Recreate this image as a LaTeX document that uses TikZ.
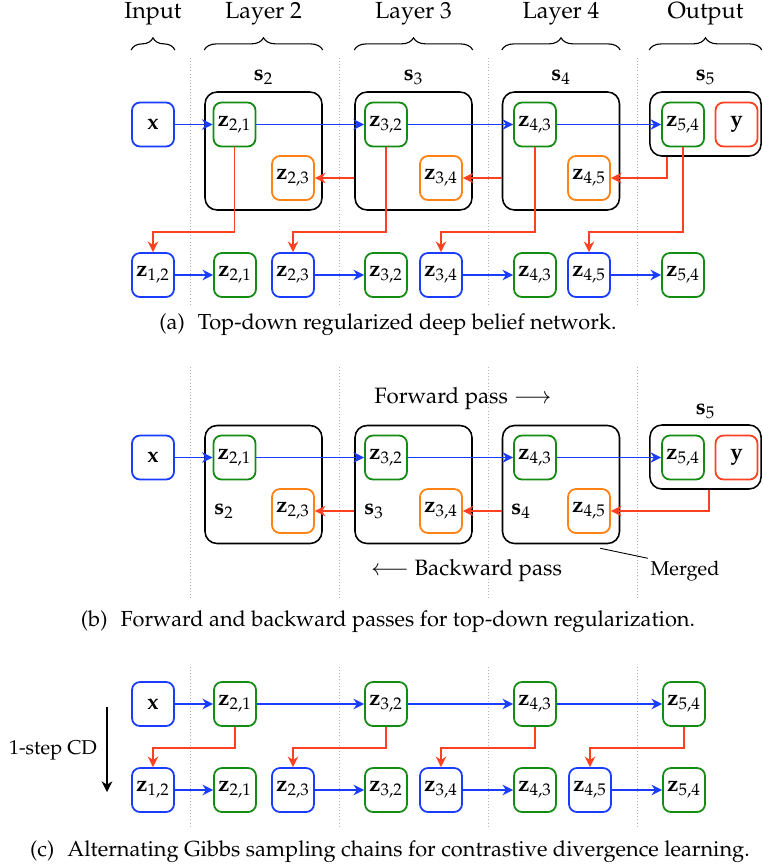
\documentclass[tikz,border=0pt]{standalone}
\usepackage[T1]{fontenc}
\usepackage{mathpazo}
\usepackage{amsmath}
\usepackage{tikz}
\usetikzlibrary{arrows.meta, positioning, decorations.pathreplacing}
\definecolor{myblue}{RGB}{25,60,255}
\definecolor{mygreen}{RGB}{20,140,20}
\definecolor{myorange}{RGB}{255,130,20}
\definecolor{myred}{RGB}{255,65,35}
\newcommand{\zlab}[2]{$\mathbf{z}_{#1,#2}$}
\tikzset{
  unit/.style={rectangle, rounded corners=3.6pt, fill=white,
    minimum width=18.9pt, minimum height=19.8pt, inner sep=0pt, line width=0.8pt},
  visnode/.style={unit, draw=myblue},
  hidnode/.style={unit, draw=mygreen},
  topnode/.style={unit, draw=myorange},
  labnode/.style={unit, draw=myred},
  layer/.style={rectangle, draw, rounded corners=5.4pt,
    minimum width=52.65pt, minimum height=53.1pt, line width=0.7pt},
  outbox/.style={rectangle, draw, rounded corners=5.4pt,
    minimum width=50pt, minimum height=28.8pt, line width=0.7pt},
  fwd/.style={-{Stealth[length=4.8pt, width=4.8pt]}, color=myblue, line width=0.7pt},
  bwd/.style={-{Stealth[length=4.8pt, width=4.8pt]}, color=myred, line width=0.7pt},
  sep/.style={densely dotted, gray!60, line width=0.4pt},
  brc/.style={decorate, decoration={brace, amplitude=5.5pt}, line width=0.5pt},
  hdr/.style={font=\fontsize{10.5}{12}\selectfont},
  captxt/.style={font=\fontsize{9.8}{12}\selectfont}
}
\begin{document}
\begin{tikzpicture}[x=0.45pt, y=-0.45pt]
  \useasboundingbox (0,0) rectangle (762,867);
  \foreach \xs in {190,339,488,637}
    \foreach \ya/\yb in {58/305, 367/600, 667/828}
      \draw[sep] (\xs,\ya) -- (\xs,\yb);

  \node[hdr] (hin) at (153,14) {Input};
  \node[hdr] (hl2) at (263.5,14) {Layer 2};
  \node[hdr] (hl3) at (413.5,14) {Layer 3};
  \node[hdr] (hl4) at (561,14) {Layer 4};
  \node[hdr] (hout) at (705.5,14) {Output};

  % (a)
  \node[layer] (l2a) at (263.5,151) {};
  \node[layer] (l3a) at (413.5,151) {};
  \node[layer] (l4a) at (561,151) {};
  \node[outbox] (l5a) at (705.5,124) {};
  \node (s2a) at (263.5,77) {$\mathbf{s}_2$};
  \node (s3a) at (413.5,77) {$\mathbf{s}_3$};
  \node (s4a) at (561,77) {$\mathbf{s}_4$};
  \node (s5a) at (705.5,77) {$\mathbf{s}_5$};

  \node[visnode] (xa) at (153,124.5) {$\mathbf{x}$};
  \node[hidnode] (z21a) at (234.5,124.5) {\zlab{2}{1}};
  \node[hidnode] (z32a) at (386,124.5) {\zlab{3}{2}};
  \node[hidnode] (z43a) at (535,124.5) {\zlab{4}{3}};
  \node[hidnode] (z54a) at (683,124.5) {\zlab{5}{4}};
  \node[labnode] (ya) at (736.5,124.5) {$\mathbf{y}$};
  \node[topnode] (z23a) at (293,178) {\zlab{2}{3}};
  \node[topnode] (z34a) at (441,178) {\zlab{3}{4}};
  \node[topnode] (z45a) at (589,178) {\zlab{4}{5}};

  \node[visnode] (lz12a) at (153,275) {\zlab{1}{2}};
  \node[hidnode] (lz21a) at (235,275) {\zlab{2}{1}};
  \node[visnode] (lz23a) at (293,275) {\zlab{2}{3}};
  \node[hidnode] (lz32a) at (386,275) {\zlab{3}{2}};
  \node[visnode] (lz34a) at (441,275) {\zlab{3}{4}};
  \node[hidnode] (lz43a) at (535,275) {\zlab{4}{3}};
  \node[visnode] (lz45a) at (589,275) {\zlab{4}{5}};
  \node[hidnode] (lz54a) at (683,275) {\zlab{5}{4}};

  \draw[brc] (xa.west |- 0,50) -- (xa.east |- 0,50);
  \draw[brc] (l2a.west |- 0,50) -- (l2a.east |- 0,50);
  \draw[brc] (l3a.west |- 0,50) -- (l3a.east |- 0,50);
  \draw[brc] (l4a.west |- 0,50) -- (l4a.east |- 0,50);
  \draw[brc] (l5a.west |- 0,50) -- (l5a.east |- 0,50);

  \draw[fwd] (xa) -- (z21a);
  \draw[fwd] (z21a) -- (z32a);
  \draw[fwd] (z32a) -- (z43a);
  \draw[fwd] (z43a) -- (z54a);
  \draw[bwd] (l3a.west |- z23a) -- (z23a);
  \draw[bwd] (l4a.west |- z34a) -- (z34a);
  \draw[bwd] (l5a.south west) ++(18,0) |- (z45a.east);

  \draw[bwd] (z21a.south) -- ++(0,84.5) -| (lz12a.north);
  \draw[bwd] (z32a.south) -- ++(0,84.5) -| (lz23a.north);
  \draw[bwd] (z43a.south) -- ++(0,84.5) -| (lz34a.north);
  \draw[bwd] (z54a.south) -- ++(0,84.5) -| (lz45a.north);
  \draw[fwd] (lz12a) -- (lz21a);
  \draw[fwd] (lz23a) -- (lz32a);
  \draw[fwd] (lz34a) -- (lz43a);
  \draw[fwd] (lz45a) -- (lz54a);

  \node[captxt] (capa) at (388,325) {(a)\hspace{0.6em}Top-down regularized deep belief network.};

  % (b)
  \node (fwdtxt) at (463,399) {Forward pass $\longrightarrow$};
  \node[layer] (l2b) at (263.5,484.5) {};
  \node[layer] (l3b) at (413.5,484.5) {};
  \node[layer] (l4b) at (561,484.5) {};
  \node[outbox] (l5b) at (705.5,457) {};
  \node (s2b) at (224,511) {$\mathbf{s}_2$};
  \node (s3b) at (374,511) {$\mathbf{s}_3$};
  \node (s4b) at (521,511) {$\mathbf{s}_4$};
  \node (s5b) at (705.5,411) {$\mathbf{s}_5$};

  \node[visnode] (xb) at (153,457.5) {$\mathbf{x}$};
  \node[hidnode] (z21b) at (234.5,457.5) {\zlab{2}{1}};
  \node[hidnode] (z32b) at (386,457.5) {\zlab{3}{2}};
  \node[hidnode] (z43b) at (535,457.5) {\zlab{4}{3}};
  \node[hidnode] (z54b) at (683,457.5) {\zlab{5}{4}};
  \node[labnode] (yb) at (736.5,457.5) {$\mathbf{y}$};
  \node[topnode] (z23b) at (293,511) {\zlab{2}{3}};
  \node[topnode] (z34b) at (441,511) {\zlab{3}{4}};
  \node[topnode] (z45b) at (589,511) {\zlab{4}{5}};

  \draw[fwd] (xb) -- (z21b);
  \draw[fwd] (z21b) -- (z32b);
  \draw[fwd] (z32b) -- (z43b);
  \draw[fwd] (z43b) -- (z54b);
  \draw[bwd] (l3b.west |- z23b) -- (z23b);
  \draw[bwd] (l4b.west |- z34b) -- (z34b);
  \draw[bwd] (l5b.south) ++(3.5,0) |- (z45b.east);

  \node (bwdtxt) at (466.5,571) {$\longleftarrow$ Backward pass};
  \node[font=\small, inner sep=1pt] (merged) at (685,571) {Merged};
  \draw[line width=0.4pt] (l4b.south east) ++(-20,4) -- (merged.north west);

  \node[captxt] (capb) at (388,622) {(b)\hspace{0.6em}Forward and backward passes for top-down regularization.};

  % (c)
  \node[visnode] (xc) at (153,704) {$\mathbf{x}$};
  \node[hidnode] (z21c) at (235,704) {\zlab{2}{1}};
  \node[hidnode] (z32c) at (386,704) {\zlab{3}{2}};
  \node[hidnode] (z43c) at (535,704) {\zlab{4}{3}};
  \node[hidnode] (z54c) at (684,704) {\zlab{5}{4}};

  \node[visnode] (lz12c) at (153,790) {\zlab{1}{2}};
  \node[hidnode] (lz21c) at (235,790) {\zlab{2}{1}};
  \node[visnode] (lz23c) at (293,790) {\zlab{2}{3}};
  \node[hidnode] (lz32c) at (386,790) {\zlab{3}{2}};
  \node[visnode] (lz34c) at (441,790) {\zlab{3}{4}};
  \node[hidnode] (lz43c) at (535,790) {\zlab{4}{3}};
  \node[visnode] (lz45c) at (590,790) {\zlab{4}{5}};
  \node[hidnode] (lz54c) at (684,790) {\zlab{5}{4}};

  \draw[fwd] (xc) -- (z21c);
  \draw[fwd] (z21c) -- (z32c);
  \draw[fwd] (z32c) -- (z43c);
  \draw[fwd] (z43c) -- (z54c);
  \draw[bwd] (z21c.south) -- ++(0,21) -| (lz12c.north);
  \draw[bwd] (z32c.south) -- ++(0,21) -| (lz23c.north);
  \draw[bwd] (z43c.south) -- ++(0,21) -| (lz34c.north);
  \draw[bwd] (z54c.south) -- ++(0,21) -| (lz45c.north);
  \draw[fwd] (lz12c) -- (lz21c);
  \draw[fwd] (lz23c) -- (lz32c);
  \draw[fwd] (lz34c) -- (lz43c);
  \draw[fwd] (lz45c) -- (lz54c);

  \node[font=\small] (cdtxt) at (53,750) {1-step CD};
  \coordinate (cdtop) at (107,707);
  \coordinate (cdbot) at (107,792);
  \draw[-{Stealth[length=4.8pt, width=4.8pt]}, line width=0.7pt] (cdtop) -- (cdbot);

  \node[captxt] (capc) at (390,852) {(c)\hspace{0.6em}Alternating Gibbs sampling chains for contrastive divergence learning.};
\end{tikzpicture}
\end{document}
